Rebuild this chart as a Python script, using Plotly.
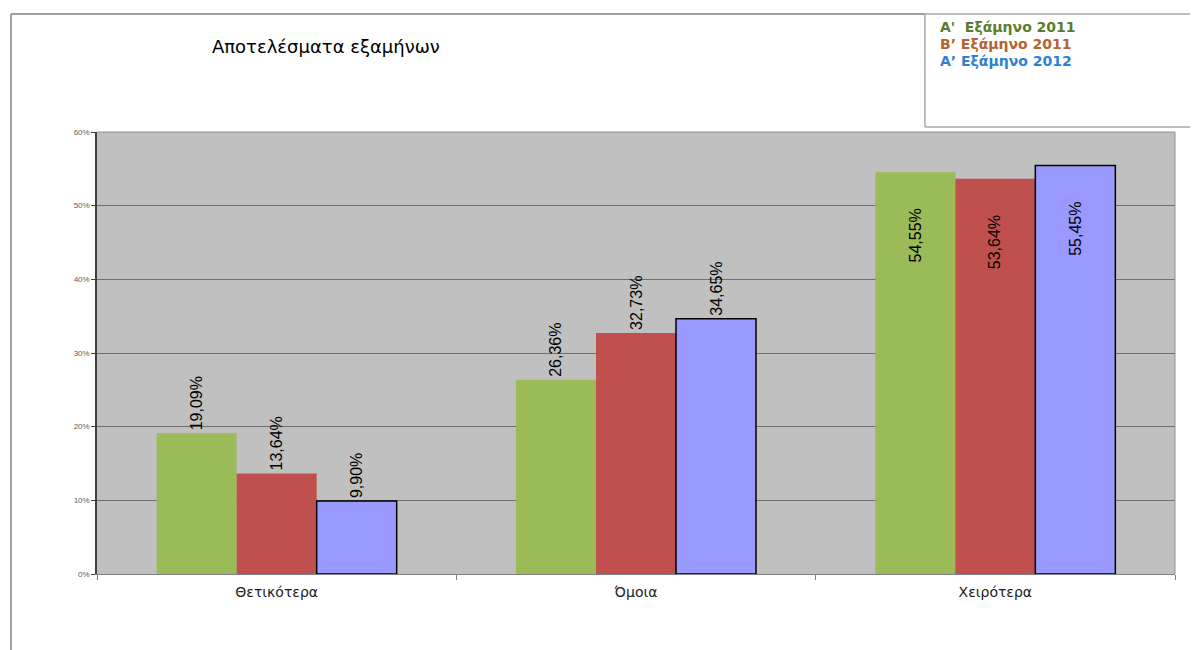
import plotly.graph_objects as go

categories = ["Θετικότερα", "Όμοια", "Χειρότερα"]
series_names = ["Α'  Εξάμηνο 2011", "Β’ Εξάμηνο 2011", "Α’ Εξάμηνο 2012"]
series_values = [
    [19.09, 26.36, 54.55],
    [13.64, 32.73, 53.64],
    [9.90, 34.65, 55.45],
]
bar_colors = ["#9BBB59", "#C0504D", "#9999FF"]
legend_colors = ["#5A7D2C", "#B8622E", "#2F80D2"]
y_ticks = [0, 10, 20, 30, 40, 50, 60]

label_font = dict(family="Liberation Sans Narrow, Arial Narrow, Liberation Sans", size=16, color="black")
bargap = 0.332
n_series = len(series_values)
plot_w = 1078

fig = go.Figure()

for k, (name, values, color) in enumerate(zip(series_names, series_values, bar_colors)):
    labels = [f"{v:.2f}%".replace(".", ",") for v in values]
    outline = 1.5 if color == "#9999FF" else 0
    # tall bars get their label inside, near the top (added as annotations below)
    fig.add_trace(
        go.Bar(
            x=categories,
            y=values,
            name=name,
            marker=dict(color=color, line=dict(color="black", width=outline)),
            text=["" if v > 50 else t for v, t in zip(values, labels)],
            textposition="outside",
            textangle=-90,
            textfont=label_font,
            cliponaxis=False,
        )
    )
    # offset of this bar from the category centre, in pixels
    bar_w = plot_w / len(categories) * (1 - bargap) / n_series
    shift = (k - (n_series - 1) / 2) * bar_w
    for cat, v, t in zip(categories, values, labels):
        if v > 50:
            fig.add_annotation(
                x=cat, y=v, xshift=shift, yshift=-34,
                yanchor="top", xanchor="center",
                text=t, textangle=-90, showarrow=False,
                font=label_font,
            )

# frame around the chart area
fig.add_shape(type="line", xref="paper", yref="paper", x0=-0.0798, x1=0.768, y0=1.267, y1=1.267,
              line=dict(color="#A0A0A0", width=2))
fig.add_shape(type="line", xref="paper", yref="paper", x0=-0.0798, x1=-0.0798, y0=1.267, y1=-0.2,
              line=dict(color="#A0A0A0", width=2))

# legend box (runs off the right edge)
fig.add_shape(type="line", xref="paper", yref="paper", x0=0.768, x1=1.2, y0=1.267, y1=1.267,
              line=dict(color="#A8A8A8", width=1.5))
fig.add_shape(type="line", xref="paper", yref="paper", x0=0.768, x1=1.2, y0=1.0113, y1=1.0113,
              line=dict(color="#A8A8A8", width=1.5))
fig.add_shape(type="line", xref="paper", yref="paper", x0=0.768, x1=0.768, y0=1.0113, y1=1.267,
              line=dict(color="#A8A8A8", width=1.5))
for i, (name, color) in enumerate(zip(series_names, legend_colors)):
    fig.add_annotation(
        xref="paper", yref="paper", x=0.780, y=1.238 - i * 0.0385,
        xanchor="left", yanchor="middle", showarrow=False,
        text=f"<b>{name}</b>",
        font=dict(family="DejaVu Sans", size=14, color=color),
    )

fig.update_layout(
    width=1190,
    height=642,
    margin=dict(l=89, r=23, t=124, b=76),
    paper_bgcolor="white",
    plot_bgcolor="#C0C0C0",
    barmode="group",
    bargap=bargap,
    bargroupgap=0,
    showlegend=False,
    title=dict(
        text="Αποτελέσματα εξαμήνων",
        x=0.1714, xanchor="left", y=0.9393, yanchor="middle",
        font=dict(family="DejaVu Sans", size=18, color="black"),
    ),
)

fig.update_xaxes(
    tickson="boundaries",
    ticks="outside",
    ticklen=5,
    tickcolor="#808080",
    showline=True,
    linecolor="#808080",
    linewidth=1,
    ticklabelstandoff=5,
    tickfont=dict(family="DejaVu Sans", size=14, color="#202020"),
    showgrid=False,
)

fig.update_yaxes(
    range=[0, 60],
    tickvals=y_ticks,
    ticktext=[f"{t}%" for t in y_ticks],
    ticks="outside",
    ticklen=4,
    tickcolor="#404040",
    showline=True,
    linecolor="#404040",
    linewidth=1.5,
    gridcolor="#707070",
    gridwidth=1,
    tickfont=dict(family="Liberation Sans", size=8, color="#606060"),
    zeroline=False,
)

# plot area border (top and right)
fig.add_shape(type="line", xref="paper", yref="paper", x0=0, x1=1, y0=1, y1=1,
              line=dict(color="#909090", width=1))
fig.add_shape(type="line", xref="paper", yref="paper", x0=1, x1=1, y0=0, y1=1,
              line=dict(color="#909090", width=1))

fig.write_html("out.html")
